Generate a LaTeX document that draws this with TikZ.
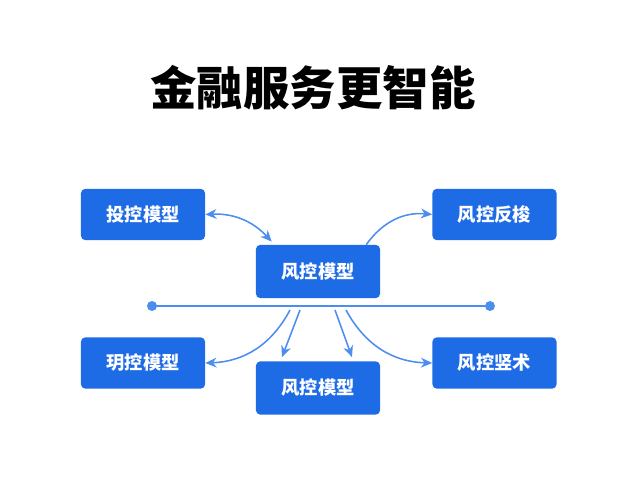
\documentclass[tikz,border=0pt]{standalone}
\usepackage{fontspec}
\newfontfamily\cjk{Noto Sans CJK SC}
\usepackage{tikz}
\usetikzlibrary{arrows.meta, positioning, calc}
\definecolor{boxblue}{HTML}{1E6BE6}
\definecolor{linkblue}{HTML}{4C8DF0}
\begin{document}
\begin{tikzpicture}[x=0.025cm, y=-0.025cm,
  box/.style={draw=none, rounded corners=3pt, fill=boxblue, minimum width=3.1cm, minimum height=1.28cm, font=\cjk\bfseries\fontsize{13}{15}\selectfont, text=white},
  link/.style={-{Stealth[length=8pt,width=7pt]}, line width=1.1pt, linkblue}]
  \useasboundingbox (0,0) rectangle (640,480);
  % Title
  \node[font=\cjk\bfseries\fontsize{33}{38}\selectfont] (title) at (313,88) {金融服务更智能};

  % Top row
  \node[box] (invest) at (143,214.5) {投控模型};
  \node[box] (feedback) at (494.5,214.5) {风控反梭};
  \node[box, minimum height=1.33cm] (core) at (318,271.5) {风控模型};

  % Divider
  \coordinate (lend) at (152,306);
  \coordinate (rend) at (490,306);
  \draw[linkblue, line width=1.1pt] (lend) -- (rend);
  \fill[linkblue] (lend) circle (5) (rend) circle (5);

  % Bottom row
  \node[box] (lmodel) at (143,363) {玥控模型};
  \node[box, minimum height=1.33cm] (bmodel) at (318,388) {风控模型};
  \node[box] (tech) at (494.5,363) {风控竖术};

  % Branch points on the divider
  \coordinate (b1) at (290,310);
  \coordinate (b2) at (300,310);
  \coordinate (b3) at (335,310);
  \coordinate (b4) at (346,310);

  % Links
  \draw[link, {Stealth[length=8pt,width=7pt]}-{Stealth[length=8pt,width=7pt]}] (invest.east) to[bend left=25] ($(core.north west)+(16,-3)$);
  \draw[link] ($(core.north east)+(-14,0)$) to[bend left=30] (feedback.west);
  \draw[link] (b1) to[bend left=30] (lmodel.east);
  \draw[link] (b2) -- ($(bmodel.north)+(-36,-4)$);
  \draw[link] (b3) -- ($(bmodel.north)+(34,-4)$);
  \draw[link] (b4) to[bend right=30] (tech.west);
\end{tikzpicture}
\end{document}
